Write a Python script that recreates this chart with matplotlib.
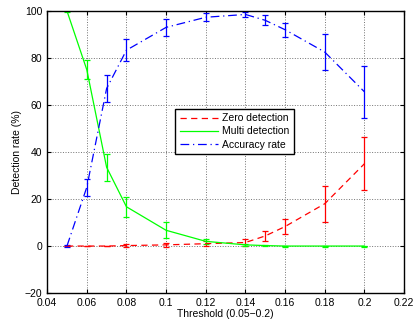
import numpy as np
import matplotlib.pyplot as plt
from matplotlib.lines import Line2D

thresholds = [0.05, 0.06, 0.07, 0.08, 0.10, 0.12, 0.14, 0.15, 0.16, 0.18, 0.20]

zero_mean = [0, 0, 0, 0.2, 0.5, 1.0, 1.5, 4.3, 8.3, 18.0, 35.0]
zero_err = [0, 0, 0, 0.5, 1.0, 1.0, 1.5, 2.0, 3.2, 7.7, 11.2]

multi_mean = [100, 75, 33.5, 16.7, 6.7, 2.0, 0.5, 0.2, 0, 0, 0]
multi_err = [0.5, 4.0, 5.7, 4.3, 3.4, 1.0, 0.5, 0.3, 0.2, 0.2, 0.2]

acc_mean = [0, 25, 67, 83.3, 93, 97.3, 98.5, 96, 92, 82.5, 65.6]
acc_err = [0.3, 3.7, 5.7, 4.7, 3.6, 1.7, 1.2, 2.2, 3.0, 7.6, 11.1]

labels = ['Zero detection', 'Multi detection', 'Accuracy rate']
colors = ['r', (0, 1, 0), 'b']
dashes = [(0, (5, 3.5)), '-', (0, (7, 3, 1, 3))]

plt.rcParams['font.family'] = ['Liberation Sans', 'DejaVu Sans']

fig = plt.figure(figsize=(4.17, 3.21), dpi=100)
ax = fig.add_axes([0.113, 0.087, 0.856, 0.879])

handles = []
for m, e, c, ls, lab in zip([zero_mean, multi_mean, acc_mean],
                            [zero_err, multi_err, acc_err],
                            colors, dashes, labels):
    ax.errorbar(thresholds, m, yerr=e, color=c, ls=ls, lw=0.9,
                capsize=2.5, elinewidth=0.9, capthick=0.9)
    handles.append(Line2D([], [], color=c, ls=ls, lw=0.9, label=lab))

ax.set_xlim(0.04, 0.22)
ax.set_ylim(-20, 100)
ax.set_xticks(np.arange(0.04, 0.2201, 0.02))
ax.set_xticklabels(['0.04', '0.06', '0.08', '0.1', '0.12', '0.14', '0.16', '0.18', '0.2', '0.22'])
ax.set_yticks(np.arange(-20, 101, 20))
ax.tick_params(direction='in', labelsize=7.5, length=3, top=True, right=True)
ax.grid(True, ls=':', color='0.45', lw=0.7)
for s in ax.spines.values():
    s.set_linewidth(1.0)

ax.set_xlabel('Threshold (0.05\u22120.2)', fontsize=7.5, labelpad=1)
ax.set_ylabel('Detection rate (%)', fontsize=7.5, labelpad=2)

leg = ax.legend(handles=handles, loc='upper left', bbox_to_anchor=(0.345, 0.672), fontsize=7.5,
                frameon=True, fancybox=False, framealpha=1, edgecolor='k',
                borderpad=0.45, handlelength=3.6, labelspacing=0.3, handletextpad=0.4)
leg.get_frame().set_linewidth(1.0)

fig.savefig('out.png', dpi=100)
